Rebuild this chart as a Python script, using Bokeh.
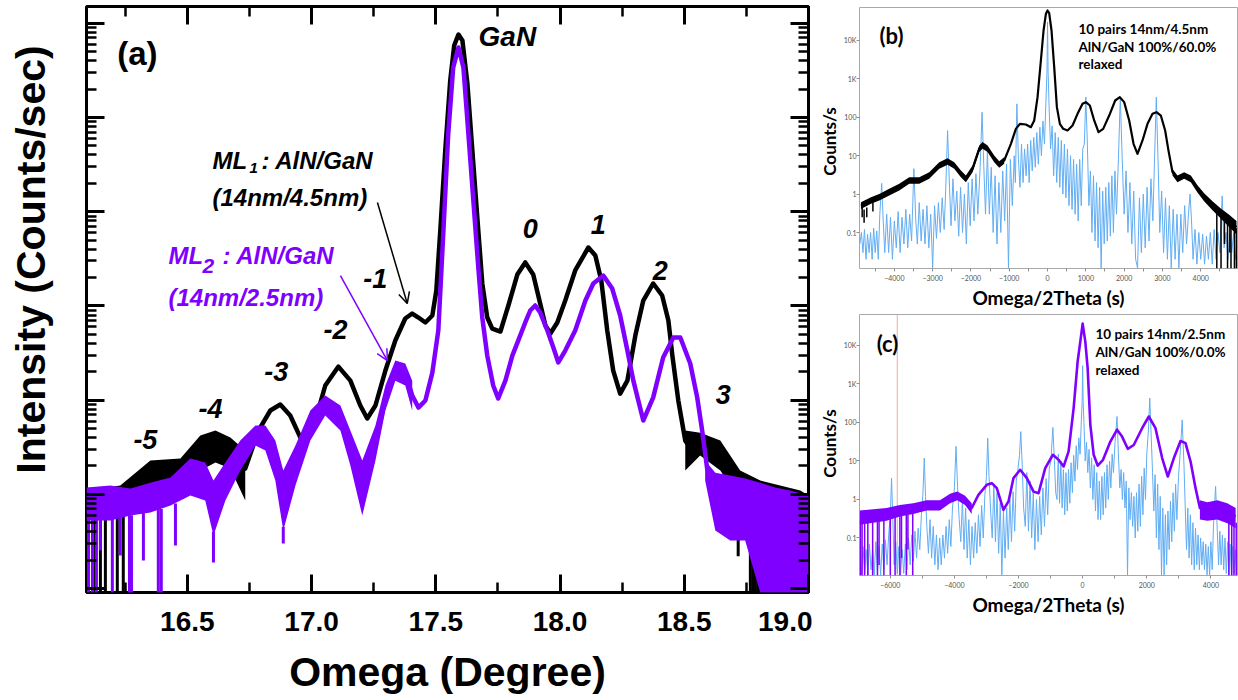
import numpy as np
from bokeh.plotting import figure
from bokeh.layouts import row, column
from bokeh.models import (Label, Arrow, OpenHead, FixedTicker, LinearAxis, LogAxis, Range1d,
                          PrintfTickFormatter, CustomJSTickFormatter)
from bokeh.core.properties import value
from bokeh.embed import file_html
from bokeh.resources import INLINE

# ====================== DATA ======================
# ---- Panel (a): omega scans, x = Omega (degree), y = counts/sec (log) ----
a_x_major = [16.5, 17.0, 17.5, 18.0, 18.5, 19.0]
a_x_minor = [16.25, 16.75, 17.25, 17.75, 18.25, 18.75]
a_y_decades = [1, 10, 100, 1e3, 1e4, 1e5, 1e6]

# ML1 : AlN/GaN (14nm/4.5nm)  -- black
ml1_omega = [16.094, 16.190, 16.271, 16.351, 16.411, 16.492, 16.552, 16.613, 16.673, 16.733,
             16.786, 16.834, 16.874, 16.914, 16.955, 16.975, 17.015, 17.055, 17.108, 17.156,
             17.196, 17.224, 17.257, 17.297, 17.337, 17.377, 17.405, 17.430, 17.458, 17.486,
             17.502, 17.518, 17.538, 17.558, 17.574, 17.591, 17.607, 17.627, 17.647, 17.667,
             17.687, 17.707, 17.727, 17.760, 17.792, 17.828, 17.860, 17.892, 17.920, 17.941,
             17.961, 17.989, 18.021, 18.061, 18.114, 18.142, 18.166, 18.190, 18.214, 18.242,
             18.271, 18.303, 18.335, 18.375, 18.411, 18.436, 18.452, 18.476, 18.504, 18.532,
             18.564, 18.613, 18.665, 18.705, 18.745, 18.806, 18.866, 18.926, 19.0]
ml1_counts = [7.6, 8.6, 11.0, 15.8, 14.0, 17.9, 25.8, 33, 29.2, 18.8,
              47.5, 77.6, 89.8, 68.7, 40, 33, 60.7, 143, 227, 161,
              87.7, 63.9, 87.7, 206, 430, 735, 830, 753, 667, 791,
              1456, 6310, 44700, 247000, 581000, 760000, 656000, 230000, 44700, 8670,
              1730, 753, 575, 535, 1010, 2150, 2890, 2150, 1060, 620,
              509, 667, 1140, 2377, 4170, 3430, 1860, 548, 206, 117,
              161, 485, 1140, 1730, 1290, 700, 297, 99, 37.2, 29.2,
              37.2, 33, 22.8, 15.8, 11.0, 8.6, 9.0, 7.6, 6.7]
ml1_noise_l_omega = [16.094, 16.230, 16.351, 16.472, 16.552, 16.613, 16.673, 16.733]
ml1_noise_l_hi = [11.0, 12.4, 22.8, 24, 42, 47.5, 40, 29.2]
ml1_noise_l_lo = [5.3, 6.7, 11.0, 11.0, 17.9, 21.8, 18.8, 8.6]
ml1_noise_r_omega = [18.504, 18.564, 18.645, 18.725, 18.806, 18.886, 18.967, 19.0]
ml1_noise_r_hi = [47.5, 45, 37.2, 17.9, 14, 12.4, 11, 9.7]
ml1_noise_r_lo = [17.9, 25.8, 17.9, 8.6, 5.3, 6.7, 5.3, 5.3]
ml1_spike_omega = [16.130, 16.150, 16.170, 16.218, 16.242, 18.717, 18.766, 18.776, 18.786, 18.796, 18.806, 18.826]
ml1_spike_top = [6, 6, 7, 7, 7, 7, 5, 4.4, 4.4, 4.4, 5, 6]
ml1_spike_bottom = [0.9, 0.9, 0.9, 0.9, 0.9, 2.2, 0.9, 0.9, 0.9, 0.9, 0.9, 0.9]

# ML2 : AlN/GaN (14nm/2.5nm)  -- purple
ml2_omega = [16.094, 16.190, 16.271, 16.351, 16.452, 16.512, 16.552, 16.605, 16.653, 16.713,
             16.774, 16.814, 16.854, 16.886, 16.935, 16.995, 17.055, 17.116, 17.156, 17.204,
             17.257, 17.297, 17.337, 17.377, 17.405, 17.430, 17.458, 17.486, 17.510, 17.530,
             17.550, 17.570, 17.591, 17.611, 17.631, 17.651, 17.671, 17.687, 17.707, 17.731,
             17.751, 17.780, 17.808, 17.832, 17.860, 17.880, 17.900, 17.920, 17.949, 17.973,
             17.993, 18.021, 18.061, 18.102, 18.134, 18.174, 18.210, 18.242, 18.271, 18.295,
             18.335, 18.375, 18.415, 18.456, 18.484, 18.524, 18.552, 18.572, 18.592, 18.625,
             18.685, 18.745, 18.806, 18.866, 18.926, 19.0]
ml2_counts = [7.6, 8.0, 8.6, 9.25, 11.0, 15.8, 14.0, 7.07, 14.0, 25.8,
              44.2, 40, 22.8, 7.6, 20.2, 53.7, 89.8, 68.7, 31.4, 11.0,
              34.6, 104, 216, 196, 112, 83.4, 99, 196, 548, 5870,
              67600, 340000, 553000, 340000, 67600, 13150, 2560, 753, 297, 143,
              104, 161, 297, 430, 667, 894, 1010, 851, 548, 362,
              251, 336, 548, 1140, 1730, 2100, 1530, 791, 336, 161,
              60.7, 107, 283, 462, 462, 245, 107, 47.5, 18.8, 11.0,
              8.6, 7.6, 6.7, 5.3, 4.67, 4.13]
ml2_noise_l_omega = [16.094, 16.190, 16.271, 16.351, 16.432, 16.512, 16.572, 16.605, 16.653, 16.713,
                     16.774, 16.814, 16.854, 16.886, 16.935, 16.995, 17.055, 17.116, 17.156, 17.204,
                     17.257, 17.297, 17.337, 17.377, 17.405]
ml2_noise_l_hi = [11.8, 12.4, 11.5, 13.3, 15.1, 24, 21.8, 14.0, 21.8, 37.2,
                  53.7, 53.7, 37.2, 17.9, 33, 77.6, 112, 87.7, 47.5, 22.8,
                  53.7, 143, 263, 245, 161]
ml2_noise_l_lo = [5.27, 5.27, 5.96, 6.41, 7.6, 9.7, 8.6, 3.65, 8.6, 17.9,
                  33, 29.2, 14.0, 4.13, 12.4, 37.2, 68.7, 47.5, 20.2, 5.96,
                  22.8, 77.6, 161, 143, 77.6]
ml2_noise_r_omega = [18.584, 18.625, 18.685, 18.745, 18.806, 18.866, 18.926, 19.0]
ml2_noise_r_hi = [22.8, 17.0, 15.8, 14.7, 13.3, 11.8, 11.0, 9.7]
ml2_noise_r_lo = [14.0, 4.13, 3.23, 3.23, 0.9, 0.9, 0.9, 0.9]
ml2_spike_omega = [16.102, 16.118, 16.134, 16.150, 16.198, 16.230, 16.267, 16.275, 16.323, 16.383,
                   16.395, 16.452, 16.605, 16.886]
ml2_spike_top = [6, 6, 6, 6, 6, 6, 6, 6, 6.5, 7, 7, 8, 4, 4.5]
ml2_spike_bottom = [0.9, 0.9, 0.9, 2.53, 0.9, 2.24, 0.9, 0.9, 1.98, 0.9, 0.9, 2.86, 1.89, 3.0]

order_labels = ["-5", "-4", "-3", "-2", "-1", "0", "1", "2", "3"]
order_omega = [16.331, 16.593, 16.858, 17.096, 17.256, 17.880, 18.154, 18.403, 18.657]
order_counts = [38.2, 81.5, 201, 561, 1954, 6630, 7310, 2377, 114.6]

# ---- Panel (b): 10 pairs 14nm/4.5nm, x = Omega/2Theta (s) ----
b_x_major = [-4000, -3000, -2000, -1000, 0, 1000, 2000, 3000, 4000]
b_x_minor = [-4500, -3500, -2500, -1500, -500, 500, 1500, 2500, 3500, 4500]
bc_y_major = [0.1, 1, 10, 100, 1000, 10000]

b_meas_x = [-4872, -4611, -4394, -4133, -3872, -3611, -3350, -3089, -2828, -2610,
            -2436, -2262, -2132, -1958, -1784, -1697, -1566, -1392, -1262, -1131,
            -957, -827, -722, -566, -435, -348, -261, -174, -104, -43,
            0, 43, 104, 174, 244, 322, 409, 522, 653, 783,
            914, 1000, 1105, 1218, 1331, 1453, 1610, 1766, 1888, 2001,
            2132, 2245, 2349, 2480, 2610, 2741, 2845, 2958, 3071, 3158,
            3263, 3393, 3567, 3741, 3915, 4089, 4307, 4524, 4742, 4933]
b_meas_y = [0.50, 0.68, 0.83, 1.12, 1.52, 2.26, 2.26, 3.05, 5.56, 7.07,
            5.56, 3.37, 2.50, 4.55, 15.1, 18.5, 15.1, 8.28, 5.9, 7.5,
            20.4, 50, 67.6, 64.9, 55.3, 82.6, 334, 3013, 18200, 49400,
            60400, 51500, 18200, 2020, 184, 67.6, 50.1, 45.3, 61, 123,
            224, 248, 203, 82.6, 41, 50, 111, 274, 334, 248,
            82.6, 20.4, 11.2, 24.9, 67.6, 123, 136, 111, 45.3, 13.6,
            3.72, 2.5, 3.05, 2.5, 1.37, 0.83, 0.50, 0.31, 0.205, 0.138]
b_noise_l_x = [-4872, -4611, -4394, -4133, -3872, -3611, -3350, -3089, -2828, -2610,
               -2436, -2262, -2132, -1958, -1784, -1697, -1566, -1392, -1262, -1131]
b_noise_l_hi = [0.61, 0.83, 1.01, 1.37, 1.85, 2.76, 2.76, 3.72, 6.8, 8.6,
                6.8, 4.1, 3.05, 5.55, 18.4, 22.6, 18.4, 10.1, 7.2, 9.15]
b_noise_l_lo = [0.41, 0.56, 0.68, 0.92, 1.25, 1.85, 1.85, 2.5, 4.56, 5.8,
                4.56, 2.76, 2.05, 3.73, 12.4, 15.2, 12.4, 6.8, 4.84, 6.15]
b_noise_r_x = [3263, 3393, 3567, 3741, 3915, 4089, 4307, 4524, 4742, 4933]
b_noise_r_hi = [4.5, 3.05, 3.7, 3.05, 1.7, 1.05, 0.65, 0.42, 0.29, 0.2]
b_noise_r_lo = [3.05, 2.05, 2.5, 2.05, 1.1, 0.65, 0.38, 0.23, 0.14, 0.09]
b_spike_x = [-4840, -4790, -4720, -4560, 4420, 4530, 4620, 4700, 4760, 4790, 4880, 4930]
b_spike_top = [0.45, 0.4, 0.45, 0.6, 0.4, 0.3, 0.25, 0.22, 0.2, 0.2, 0.15, 0.13]
b_spike_bottom = [0.25, 0.18, 0.25, 0.35, 0.0116, 0.0116, 0.05, 0.0116, 0.03, 0.0116, 0.0116, 0.0116]

b_sim_x = [-4900, -4860, -4820, -4780, -4740, -4700, -4660, -4620, -4580, -4540, -4500, -4460, -4420, -4380, -4330, -4290, -4250,
           -4200, -4150, -4100, -4050, -4000, -3950, -3900, -3850, -3800, -3750, -3700, -3650, -3600, -3550, -3490, -3440,
           -3400, -3350, -3300, -3250, -3200, -3150, -3100, -3050, -3000, -2950, -2900, -2850, -2800, -2750, -2700, -2660, -2610, -2560,
           -2520, -2470, -2420, -2370, -2320, -2270, -2220, -2170, -2120, -2070, -2020, -1970, -1920, -1870, -1820, -1760, -1710, -1660,
           -1620, -1570, -1520, -1470, -1420, -1370, -1320, -1270, -1220, -1170, -1120, -1070, -1020, -970, -920, -870, -840, -800, -760,
           -720, -680, -640, -600, -560, -520, -480, -440, -400, -360, -320, -280, -240, -200, -160, -120, -80, -40, -15, 0, 15, 40,
           80, 120, 160, 200, 240, 280, 320, 360, 400, 440, 480, 520, 560, 600, 640, 680, 720, 760, 800, 840, 880, 920, 960, 1000, 1040,
           1080, 1120, 1160, 1200, 1240, 1280, 1320, 1360, 1400, 1440, 1480, 1520, 1560, 1600, 1640, 1680, 1720, 1760, 1800, 1850, 1900, 1950,
           2000, 2050, 2100, 2150, 2200, 2250, 2300, 2350, 2400, 2450, 2500, 2550, 2600, 2650, 2700, 2750, 2790, 2840, 2890,
           2930, 2980, 3030, 3080, 3130, 3180, 3230, 3280, 3330, 3380, 3430, 3480, 3530, 3580, 3630, 3680, 3720, 3760,
           3800, 3850, 3900, 3950, 4000, 4050, 4100, 4150, 4200, 4250, 4300, 4350, 4400, 4450, 4500, 4560, 4610, 4660, 4710, 4760, 4810, 4860, 4910, 4950]
b_sim_y = [0.05, 0.1, 0.03, 0.12, 0.02, 0.09, 0.03, 0.1, 0.02, 0.13, 0.03, 0.11, 0.02, 0.3, 1.9, 0.2, 0.03,
           0.3, 0.03, 0.25, 0.02, 0.2, 0.04, 0.35, 0.03, 0.25, 0.05, 0.4, 0.04, 0.3, 0.06, 4.6, 0.2,
           0.05, 0.6, 0.06, 0.4, 0.05, 0.5, 0.04, 0.3, 0.012, 0.5, 0.07, 0.6, 0.1, 0.8, 0.12, 1.2, 45, 1.5,
           0.15, 2.5, 0.2, 1.2, 0.08, 1.5, 0.1, 1.0, 0.05, 2.0, 0.15, 2.5, 0.2, 3.4, 0.3, 5, 135, 4,
           0.3, 13, 0.3, 5, 0.1, 3, 0.05, 2, 0.1, 4, 0.2, 6, 0.012, 8, 0.5, 10, 2, 224, 8,
           1.5, 20, 2, 15, 3, 20, 2, 25, 4, 30, 5, 40, 6, 55, 10, 80, 20, 300, 1500, 30000, 1500, 200,
           15, 60, 3, 40, 2, 30, 1.5, 25, 1, 20, 0.8, 15, 0.5, 10, 0.4, 8, 0.3, 6, 0.2, 8, 0.5, 15, 20, 334, 20,
           0.5, 4, 0.1, 3, 0.06, 2, 0.04, 1.5, 0.012, 1.2, 0.05, 1.5, 0.06, 2, 0.08, 3, 0.1, 4, 0.3, 8, 334, 8,
           0.3, 4, 0.1, 2, 0.05, 1.2, 0.02, 0.012, 0.8, 0.03, 1, 0.04, 1.5, 0.06, 2.5, 0.2, 6, 334, 5,
           0.1, 1.2, 0.03, 0.8, 0.02, 0.5, 0.012, 0.4, 0.02, 0.3, 0.012, 0.3, 0.03, 0.5, 0.05, 0.3, 1.0, 0.2,
           0.02, 0.12, 0.015, 0.1, 0.02, 0.09, 0.015, 0.08, 0.02, 0.1, 0.015, 0.12, 0.02, 0.1, 0.03, 0.9, 0.04, 0.1, 0.02, 0.09, 0.03, 0.1, 0.02, 0.08]

# ---- Panel (c): 10 pairs 14nm/2.5nm ----
c_x_major = [-6000, -4000, -2000, 0, 2000, 4000]
c_x_minor = [-5000, -3000, -1000, 1000, 3000]
c_marker_x = [-5780]

c_meas_x = [-6950, -6533, -6117, -5700, -5283, -4866, -4449, -4137, -3908, -3668,
            -3459, -3251, -2991, -2834, -2678, -2470, -2313, -2157, -1949, -1740,
            -1532, -1375, -1167, -927, -750, -594, -438, -281, -156, -73,
            0, 83, 156, 240, 344, 469, 636, 865, 1073, 1230,
            1407, 1594, 1855, 2063, 2272, 2480, 2657, 2845, 3053, 3209,
            3366, 3522, 3657, 3887, 4199, 4512, 4772]
c_meas_y = [0.36, 0.40, 0.44, 0.54, 0.60, 0.73, 0.73, 1.08, 1.27, 0.98,
            0.60, 1.32, 2.4, 2.65, 1.97, 0.54, 0.89, 3.6, 5.9, 3.6,
            1.6, 1.46, 6.5, 14.5, 10.7, 7.2, 17.7, 236, 3840, 12600,
            37000, 12600, 2580, 87, 14.5, 7.6, 10.7, 32, 65, 43,
            20.7, 26, 71, 143, 71, 11.9, 3.95, 11.9, 33, 29,
            9.7, 1.97, 0.60, 0.54, 0.60, 0.49, 0.36]
c_noise_l_x = [-6950, -6533, -6117, -5700, -5283, -4866, -4449, -4137, -3908, -3668, -3459]
c_noise_l_hi = [0.52, 0.56, 0.6, 0.72, 0.8, 0.95, 0.95, 1.4, 1.6, 1.25, 0.8]
c_noise_l_lo = [0.22, 0.25, 0.28, 0.36, 0.42, 0.52, 0.52, 0.8, 0.95, 0.72, 0.42]
c_noise_r_x = [3657, 3887, 4199, 4512, 4772]
c_noise_r_hi = [0.95, 0.85, 0.95, 0.8, 0.6]
c_noise_r_lo = [0.3, 0.28, 0.3, 0.24, 0.18]
c_spike_x = [-6930, -6880, -6800, -6700, -6550, -6400, -6350, -6200, -6000, -5850,
             -5700, -5650, -5500, -5450, -5300, 4560, 4650, 4720, 4790]
c_spike_top = [0.3, 0.3, 0.25, 0.3, 0.3, 0.3, 0.3, 0.35, 0.35, 0.35,
               0.4, 0.4, 0.4, 0.4, 0.45, 0.3, 0.3, 0.25, 0.25]
c_spike_bottom = [0.0106, 0.0106, 0.0106, 0.0106, 0.0106, 0.0106, 0.02, 0.0106, 0.0106, 0.0106,
                  0.0106, 0.03, 0.0106, 0.05, 0.0106, 0.0106, 0.0106, 0.0106, 0.0106]

c_sim_x = [-6960, -6900, -6850, -6800, -6750, -6700, -6650, -6600, -6550, -6500, -6450, -6400, -6350, -6300, -6250, -6200, -6150, -6100, -6050, -6000, -5960, -5920, -5880,
           -5830, -5780, -5730, -5680, -5630, -5580, -5530, -5480, -5430, -5380, -5330, -5280, -5230, -5180, -5130, -5080, -5030, -4980, -4940, -4900, -4860,
           -4810, -4760, -4710, -4660, -4610, -4560, -4510, -4460, -4410, -4360, -4310, -4260, -4210, -4160, -4110, -4060, -4000, -3950, -3900, -3850,
           -3800, -3750, -3700, -3650, -3600, -3550, -3500, -3450, -3400, -3350, -3300, -3250, -3200, -3150, -3100, -3050, -3000, -2960, -2920, -2870,
           -2820, -2770, -2720, -2670, -2620, -2570, -2520, -2470, -2420, -2370, -2320, -2270, -2220, -2170, -2120, -2070, -2020, -1970, -1930, -1890, -1840,
           -1790, -1740, -1690, -1640, -1590, -1540, -1490, -1440, -1390, -1340, -1290, -1240, -1190, -1140, -1090, -1040, -990, -930, -880, -840,
           -800, -760, -720, -680, -640, -600, -560, -520, -480, -440, -400, -360, -320, -280, -240, -200, -160, -120, -80, -40, -15, 0, 15, 40,
           80, 120, 160, 200, 240, 280, 320, 360, 400, 440, 480, 520, 560, 600, 640, 680, 720, 760, 800, 840, 880, 920, 960, 1010, 1073, 1120, 1160,
           1200, 1240, 1280, 1320, 1360, 1400, 1440, 1480, 1520, 1560, 1600, 1640, 1680, 1720, 1760, 1800, 1840, 1880, 1920, 1960, 2000, 2050, 2094, 2140, 2180,
           2220, 2260, 2300, 2340, 2380, 2420, 2460, 2500, 2540, 2580, 2620, 2660, 2700, 2740, 2780, 2820, 2860, 2900, 2940, 2990, 3050, 3105, 3160, 3200,
           3240, 3280, 3320, 3360, 3400, 3440, 3480, 3520, 3560, 3600, 3640, 3680, 3720, 3760, 3800, 3840, 3880, 3920, 3960, 4000, 4040, 4080, 4147, 4200, 4240,
           4280, 4320, 4360, 4400, 4440, 4480, 4520, 4560, 4600, 4640, 4680, 4720, 4760, 4800, 4830]
c_sim_y = [0.03, 0.011, 0.06, 0.012, 0.05, 0.011, 0.07, 0.015, 0.05, 0.011, 0.08, 0.013, 0.06, 0.011, 0.07, 0.015, 0.09, 0.02, 0.12, 0.4, 3.6, 0.3, 0.02,
           0.08, 0.012, 0.06, 0.011, 0.05, 0.012, 0.07, 0.015, 0.1, 0.02, 0.12, 0.025, 0.15, 0.03, 0.18, 0.05, 0.4, 1.5, 11.9, 1.2, 0.2,
           0.04, 0.3, 0.03, 0.2, 0.02, 0.12, 0.015, 0.1, 0.02, 0.12, 0.03, 0.2, 0.04, 0.3, 0.06, 0.6, 2, 24, 2, 0.3,
           0.08, 1.0, 0.05, 0.6, 0.03, 0.3, 0.02, 0.2, 0.03, 0.25, 0.04, 0.4, 0.06, 0.7, 0.1, 1.3, 4, 39, 4, 0.5,
           0.1, 2.5, 0.08, 1.5, 0.04, 0.8, 0.011, 0.5, 0.03, 0.6, 0.05, 1.0, 0.08, 1.6, 0.15, 3, 6, 14, 58, 10, 0.6,
           0.2, 5, 0.15, 3, 0.1, 1.5, 0.05, 1.0, 0.08, 1.2, 0.12, 2, 0.2, 3.5, 0.4, 6.5, 10, 74, 10, 1.5,
           1.0, 15, 0.8, 10, 0.6, 6, 0.4, 5, 0.5, 6, 0.8, 9, 1.5, 14, 3, 25, 6, 40, 15, 120, 355, 3000, 355, 100,
           10, 31, 5, 20, 2, 12, 1, 8, 0.5, 5, 0.3, 3, 0.3, 4, 0.4, 5, 0.6, 8, 1, 10, 2, 15, 5, 30, 143, 12, 2,
           6, 1, 5, 0.6, 3, 0.011, 2, 0.3, 1.5, 0.2, 1.2, 0.1, 1.5, 0.15, 2.5, 0.2, 4, 0.4, 6.5, 1, 15, 60, 429, 40, 5,
           0.5, 4.4, 0.1, 2.5, 0.05, 1.2, 0.011, 0.6, 0.011, 0.4, 0.02, 0.5, 0.05, 0.9, 0.08, 1.5, 0.15, 2.5, 0.3, 4, 20, 117, 8, 0.6,
           0.05, 0.6, 0.03, 0.4, 0.02, 0.25, 0.015, 0.18, 0.02, 0.12, 0.015, 0.1, 0.02, 0.08, 0.015, 0.07, 0.011, 0.06, 0.011, 0.08, 0.015, 0.2, 2.2, 0.15, 0.02,
           0.15, 0.02, 0.12, 0.015, 0.1, 0.012, 0.08, 0.011, 0.07, 0.011, 0.06, 0.012, 0.05, 0.011, 0.04]

# ====================== STYLE ======================
FA = "Liberation Sans"
FB = "Lato"
PURPLE = "#7f00ff"
SIMBLUE = "#62adf3"
BLANK = CustomJSTickFormatter(code="return '';")


def strip(width):
    s = figure(frame_width=width, frame_height=700, x_range=Range1d(0, width), y_range=Range1d(0, 700),
               output_backend="svg", toolbar_location=None, min_border=0,
               x_axis_location=None, y_axis_location=None)
    s.outline_line_color = None
    s.grid.visible = False
    s.border_fill_color = "white"
    s.background_fill_color = "white"
    return s


# ====================== y-title strip for panel (a) ======================
pt = strip(60)
pt.text(x=[30], y=[447], text=["Intensity (Counts/sec)"], angle=np.pi / 2,
        text_align="center", text_baseline="middle", text_font=value(FA),
        text_font_size="41px", text_font_style="bold", text_color="black")

# ====================== y-title strip for panels (b), (c) ======================
ps = strip(28)
ps.text(x=[17, 17], y=[565, 263], text=["Counts/s", "Counts/s"], angle=np.pi / 2,
        text_align="center", text_baseline="middle", text_font=value(FB),
        text_font_size="17px", text_font_style="bold", text_color="black")

# ====================== PANEL (a) ======================
pa = figure(frame_width=722, frame_height=586, x_range=Range1d(16.094, 19.0),
            y_range=Range1d(0.908, 1.507e6), y_axis_type="log",
            output_backend="svg", toolbar_location=None,
            min_border_left=26, min_border_right=4, min_border_top=6, min_border_bottom=108)
pa.grid.visible = False
pa.outline_line_color = "black"
pa.outline_line_width = 3
pa.background_fill_color = "white"
pa.border_fill_color = "white"

xt = FixedTicker(ticks=a_x_major, minor_ticks=a_x_minor)
ymin = [d * k for d in a_y_decades for k in range(2, 10)]
yt = FixedTicker(ticks=a_y_decades, minor_ticks=ymin)


def style_a_axis(ax, show_labels):
    ax.axis_line_color = None
    ax.major_tick_line_color = "black"
    ax.minor_tick_line_color = "black"
    ax.major_tick_line_width = 3
    ax.minor_tick_line_width = 2.5
    ax.major_tick_in = 18
    ax.major_tick_out = 0
    ax.minor_tick_in = 10
    ax.minor_tick_out = 0
    if show_labels:
        ax.major_label_text_font = FA
        ax.major_label_text_font_style = "bold"
        ax.major_label_text_font_size = "28px"
        ax.major_label_text_color = "black"
        ax.major_label_standoff = 19
    else:
        ax.formatter = BLANK
        ax.major_label_text_font_size = "2px"
        ax.major_label_text_color = None
        ax.major_label_standoff = 0


pa.xaxis[0].ticker = xt
pa.xaxis[0].formatter = PrintfTickFormatter(format="%.1f")
style_a_axis(pa.xaxis[0], True)
pa.xaxis[0].axis_label = "Omega (Degree)"
pa.xaxis[0].axis_label_text_font = FA
pa.xaxis[0].axis_label_text_font_size = "41px"
pa.xaxis[0].axis_label_text_font_style = "bold"
pa.xaxis[0].axis_label_text_color = "black"
pa.xaxis[0].axis_label_standoff = 15
pa.yaxis[0].ticker = yt
style_a_axis(pa.yaxis[0], False)
top_ax = LinearAxis(ticker=xt)
style_a_axis(top_ax, False)
pa.add_layout(top_ax, "above")
right_ax = LogAxis(ticker=yt)
style_a_axis(right_ax, False)
pa.add_layout(right_ax, "right")

# ML1 (black)
pa.varea(x=ml1_noise_l_omega, y1=ml1_noise_l_lo, y2=ml1_noise_l_hi, fill_color="black")
pa.varea(x=ml1_noise_r_omega, y1=ml1_noise_r_lo, y2=ml1_noise_r_hi, fill_color="black")
pa.segment(x0=ml1_spike_omega, y0=ml1_spike_bottom, x1=ml1_spike_omega, y1=ml1_spike_top,
           line_color="black", line_width=3)
pa.line(ml1_omega, ml1_counts, line_color="black", line_width=4.5, line_join="round")
# ML2 (purple)
pa.varea(x=ml2_noise_l_omega, y1=ml2_noise_l_lo, y2=ml2_noise_l_hi, fill_color=PURPLE)
pa.varea(x=ml2_noise_r_omega, y1=ml2_noise_r_lo, y2=ml2_noise_r_hi, fill_color=PURPLE)
pa.segment(x0=ml2_spike_omega, y0=ml2_spike_bottom, x1=ml2_spike_omega, y1=ml2_spike_top,
           line_color=PURPLE, line_width=3)
pa.line(ml2_omega, ml2_counts, line_color=PURPLE, line_width=4.5, line_join="round")

pa.add_layout(Label(x=16.299, y=478000, text="(a)", text_align="center", text_baseline="middle",
                    text_font=FA, text_font_size="33px", text_font_style="bold", text_color="black"))
pa.add_layout(Label(x=17.788, y=724000, text="GaN", text_align="center", text_baseline="middle",
                    text_font=FA, text_font_size="28px", text_font_style="bold italic", text_color="black"))
for t, xo, yo in zip(order_labels, order_omega, order_counts):
    pa.add_layout(Label(x=xo, y=yo, text=t, text_align="center", text_baseline="middle",
                        text_font=FA, text_font_size="27px", text_font_style="bold italic",
                        text_color="black"))


def lab(x, y, text, color, size="24px", style="bold italic"):
    pa.add_layout(Label(x=x, y=y, x_units="screen", y_units="screen", text=text,
                        text_align="left", text_baseline="alphabetic", text_font=FA,
                        text_font_size=size, text_font_style=style, text_color=color))


lab(126, 432, "ML", "black")
lab(163, 425, "1", "black", size="15px")
lab(175, 432, ": AlN/GaN", "black")
lab(126, 395, "(14nm/4.5nm)", "black")
lab(82, 337, "ML", PURPLE)
lab(116, 327, "2", PURPLE, size="21px")
lab(136, 337, ": AlN/GaN", PURPLE)
lab(82, 295, "(14nm/2.5nm)", PURPLE)

pa.add_layout(Arrow(end=OpenHead(size=11, line_color="black", line_width=1.5),
                    x_start=17.265, y_start=12530, x_end=17.385, y_end=1060,
                    line_color="black", line_width=1.5))
pa.add_layout(Arrow(end=OpenHead(size=11, line_color=PURPLE, line_width=1.5),
                    x_start=17.116, y_start=2100, x_end=17.305, y_end=263,
                    line_color=PURPLE, line_width=1.5))


# ====================== PANELS (b), (c) ======================
def small_panel(xr, yr, xmaj, xmin, top_border, bottom_border):
    p = figure(frame_width=378, frame_height=261, x_range=Range1d(*xr), y_range=Range1d(*yr),
               y_axis_type="log", output_backend="svg", toolbar_location=None,
               min_border_left=17, min_border_right=3, min_border_top=top_border,
               min_border_bottom=bottom_border)
    p.grid.visible = False
    p.outline_line_color = "#a8a8a8"
    p.outline_line_width = 1
    p.background_fill_color = "white"
    p.border_fill_color = "white"
    p.xaxis[0].ticker = FixedTicker(ticks=xmaj, minor_ticks=xmin)
    p.yaxis[0].ticker = FixedTicker(ticks=bc_y_major, minor_ticks=[])
    p.yaxis[0].formatter = CustomJSTickFormatter(
        code="return tick >= 1000 ? (tick/1000) + 'K' : (tick < 1 ? tick.toFixed(1) : tick.toFixed(0));")
    for ax in (p.xaxis[0], p.yaxis[0]):
        ax.axis_line_color = None
        ax.major_tick_line_color = "#909090"
        ax.minor_tick_line_color = "#909090"
        ax.major_tick_out = 3
        ax.major_tick_in = 0
        ax.minor_tick_out = 3
        ax.minor_tick_in = 0
        ax.major_label_text_font = FB
        ax.major_label_text_font_size = "7px"
        ax.major_label_text_color = "#555555"
        ax.major_label_standoff = 0
    xa = p.xaxis[0]
    xa.major_label_standoff = 3
    xa.axis_label = "Omega/2Theta (s)"
    xa.axis_label_text_font = FB
    xa.axis_label_text_font_style = "bold"
    xa.axis_label_text_color = "black"
    xa.axis_label_text_font_size = "19px"
    xa.axis_label_standoff = 2
    return p


def text_lab(p, x, y, text, size, align="left"):
    p.add_layout(Label(x=x, y=y, x_units="screen", y_units="screen", text=text,
                       text_align=align, text_baseline="middle", text_font=FB,
                       text_font_size=size, text_font_style="bold", text_color="black"))


pb = small_panel((-4910, 4960), (0.01155, 72300), b_x_major, b_x_minor, 7, 42)
pb.line(b_sim_x, b_sim_y, line_color=SIMBLUE, line_width=1)
pb.varea(x=b_noise_l_x, y1=b_noise_l_lo, y2=b_noise_l_hi, fill_color="black")
pb.varea(x=b_noise_r_x, y1=b_noise_r_lo, y2=b_noise_r_hi, fill_color="black")
pb.segment(x0=b_spike_x, y0=b_spike_bottom, x1=b_spike_x, y1=b_spike_top, line_color="black", line_width=1.5)
pb.line(b_meas_x, b_meas_y, line_color="black", line_width=2.2, line_join="round")
text_lab(pb, 32, 233, "(b)", "22px", align="center")
text_lab(pb, 219, 240, "10 pairs 14nm/4.5nm", "13.5px")
text_lab(pb, 219, 222, "AlN/GaN 100%/60.0%", "13.5px")
text_lab(pb, 219, 205, "relaxed", "13.5px")

pc = small_panel((-6960, 4830), (0.0106, 63800), c_x_major, c_x_minor, 3, 126)
pc.segment(x0=c_marker_x, y0=[0.0106], x1=c_marker_x, y1=[63800], line_color="#ffb3b3", line_width=1.2)
pc.line(c_sim_x, c_sim_y, line_color=SIMBLUE, line_width=1)
pc.varea(x=c_noise_l_x, y1=c_noise_l_lo, y2=c_noise_l_hi, fill_color=PURPLE)
pc.varea(x=c_noise_r_x, y1=c_noise_r_lo, y2=c_noise_r_hi, fill_color=PURPLE)
pc.segment(x0=c_spike_x, y0=c_spike_bottom, x1=c_spike_x, y1=c_spike_top, line_color=PURPLE, line_width=1.5)
pc.line(c_meas_x, c_meas_y, line_color=PURPLE, line_width=2.6, line_join="round")
text_lab(pc, 28, 232, "(c)", "22px", align="center")
text_lab(pc, 236, 242, "10 pairs 14nm/2.5nm", "13.5px")
text_lab(pc, 236, 224, "AlN/GaN 100%/0.0%", "13.5px")
text_lab(pc, 236, 206, "relaxed", "13.5px")

layout = row(pt, pa, ps, column(pb, pc))
open("out.html", "w").write(file_html(layout, INLINE, title="XRD omega scans"))
